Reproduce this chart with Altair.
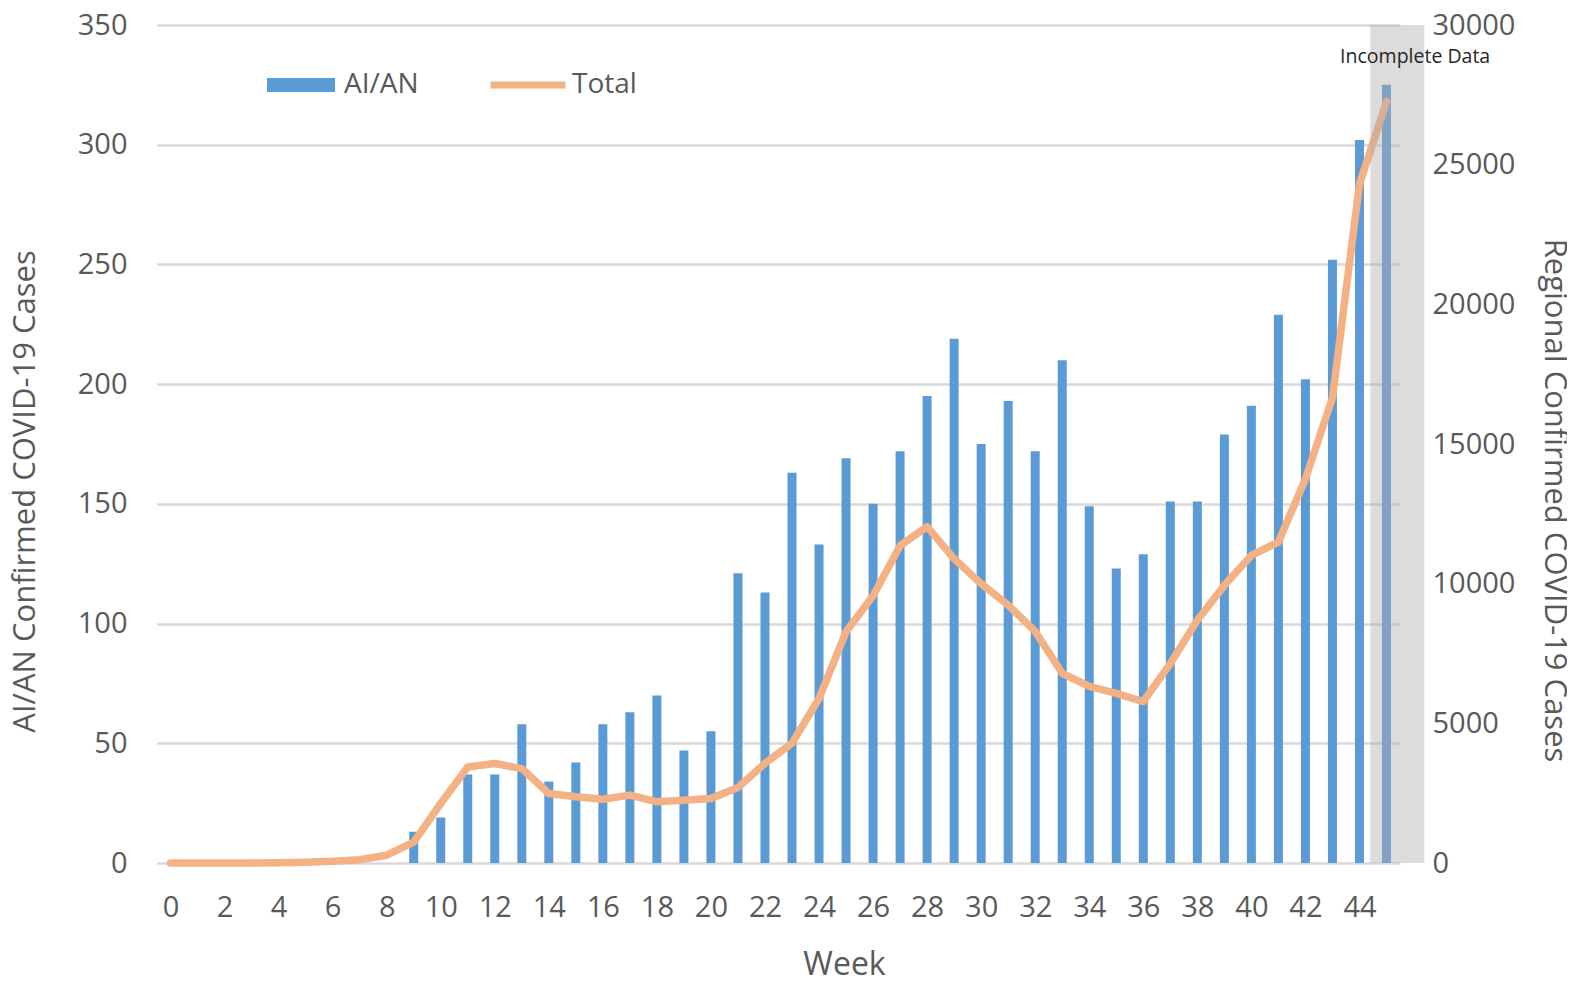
import altair as alt
import pandas as pd

weeks = list(range(46))
aian_cases = [0, 0, 0, 0, 0, 0, 0, 0, 0, 13, 19, 37, 37, 58, 34, 42, 58, 63, 70, 47,
              55, 121, 113, 163, 133, 169, 150, 172, 195, 219, 175, 193, 172, 210,
              149, 123, 129, 151, 151, 179, 191, 229, 202, 252, 302, 325]
total_cases = [0, 0, 0, 2, 10, 30, 60, 120, 280, 750, 2130, 3440, 3560, 3380, 2490,
               2370, 2280, 2430, 2190, 2250, 2310, 2700, 3570, 4290, 5890, 8280, 9570,
               11360, 12040, 10890, 10000, 9230, 8290, 6790, 6320, 6070, 5780, 7140,
               8690, 9940, 11010, 11490, 13750, 16650, 24300, 27260]
week_ticks = list(range(0, 45, 2))
left_ticks = list(range(0, 351, 50))
right_ticks = list(range(0, 30001, 5000))
incomplete_label = ["Incomplete Data"]

FONT = "Open Sans"
GREY_TXT = "#595959"
BLUE = "#5b9bd5"
ORANGE = "#f4b183"

df = pd.DataFrame({"week": weeks, "aian": aian_cases, "total": total_cases})
df["s1"] = "AI/AN"
df["s2"] = "Total"

band_df = pd.DataFrame({"x": [44.4], "x2": [46.4], "y": [0], "y2": [30000]})
label_df = pd.DataFrame({"x": [46.06], "y": [28850], "t": incomplete_label})

xscale = alt.Scale(domain=[-0.5, 45.5], nice=False, zero=False, padding=0)
xaxis = alt.Axis(values=week_ticks, grid=False, domain=False, ticks=False, labelFlush=False,
                 labelFontSize=29, labelColor=GREY_TXT, labelFont=FONT, labelPadding=30,
                 title="Week", titleFontSize=32, titleFont=FONT, titleColor=GREY_TXT,
                 titleFontWeight="normal", titleX=687, titleY=111,
                 titleBaseline="alphabetic")

bars = alt.Chart(df).mark_bar(size=9).encode(
    x=alt.X("week:Q", scale=xscale, axis=xaxis),
    y=alt.Y("aian:Q", scale=alt.Scale(domain=[0, 350], nice=False),
            axis=alt.Axis(values=left_ticks, grid=True, gridColor="#d9d9d9", gridWidth=2.5,
                          domain=False, ticks=False, labelFontSize=29, labelColor=GREY_TXT,
                          labelFont=FONT, labelPadding=30,
                          title="AI/AN Confirmed COVID-19 Cases", titleFontSize=31,
                          titleFont=FONT, titleColor=GREY_TXT, titleFontWeight="normal",
                          titlePadding=36, titleY=466)),
    fill=alt.Fill("s1:N", scale=alt.Scale(domain=["AI/AN"], range=[BLUE]),
                  legend=alt.Legend(orient="none", legendX=110, legendY=26, title=None,
                                    symbolType="M-1,-0.206H1V0.206H-1Z", symbolSize=4624,
                                    symbolStrokeWidth=0, labelFontSize=28, labelFont=FONT,
                                    labelColor=GREY_TXT, labelOffset=9, padding=0)),
)

right_y = alt.Scale(domain=[0, 30000], nice=False)
right_axis = alt.Axis(orient="right", values=right_ticks, format="d", grid=False, domain=False,
                      ticks=False, labelFontSize=29, labelColor=GREY_TXT, labelFont=FONT,
                      labelPadding=32, title="Regional Confirmed COVID-19 Cases",
                      titleFontSize=31, titleFont=FONT, titleColor=GREY_TXT,
                      titleFontWeight="normal", titlePadding=23, titleY=475)

line = alt.Chart(df).mark_line(strokeWidth=7.5, strokeCap="round", strokeJoin="round").encode(
    x=alt.X("week:Q", scale=xscale),
    y=alt.Y("total:Q", scale=right_y, axis=right_axis),
    stroke=alt.Stroke("s2:N", scale=alt.Scale(domain=["Total"], range=[ORANGE]),
                      legend=alt.Legend(orient="none", legendX=330, legendY=19, title=None,
                                        symbolType="stroke", symbolSize=5625,
                                        symbolStrokeWidth=7, labelFontSize=28, labelFont=FONT,
                                        labelColor=GREY_TXT, labelOffset=3, padding=0)),
)

band = alt.Chart(band_df).mark_rect(color="#afafaf", opacity=0.43).encode(
    x=alt.X("x:Q", scale=xscale), x2="x2:Q",
    y=alt.Y("y:Q", scale=right_y), y2="y2:Q",
)

label = alt.Chart(label_df).mark_text(fontSize=19.5, font=FONT, color="#262626",
                                      align="center", baseline="middle").encode(
    x=alt.X("x:Q", scale=xscale),
    y=alt.Y("y:Q", scale=right_y),
    text="t:N",
)

right_layer = alt.layer(line, band, label)

chart = alt.layer(bars, right_layer).resolve_scale(
    y="independent", fill="independent", stroke="independent"
).properties(
    width=1243, height=838,
    autosize=alt.AutoSizeParams(type="none"),
    padding={"left": 149, "top": 17, "right": 167, "bottom": 114},
    background="white",
).configure_view(stroke=None)

chart.save("out.html", embed_options={"renderer": "svg", "actions": False})
